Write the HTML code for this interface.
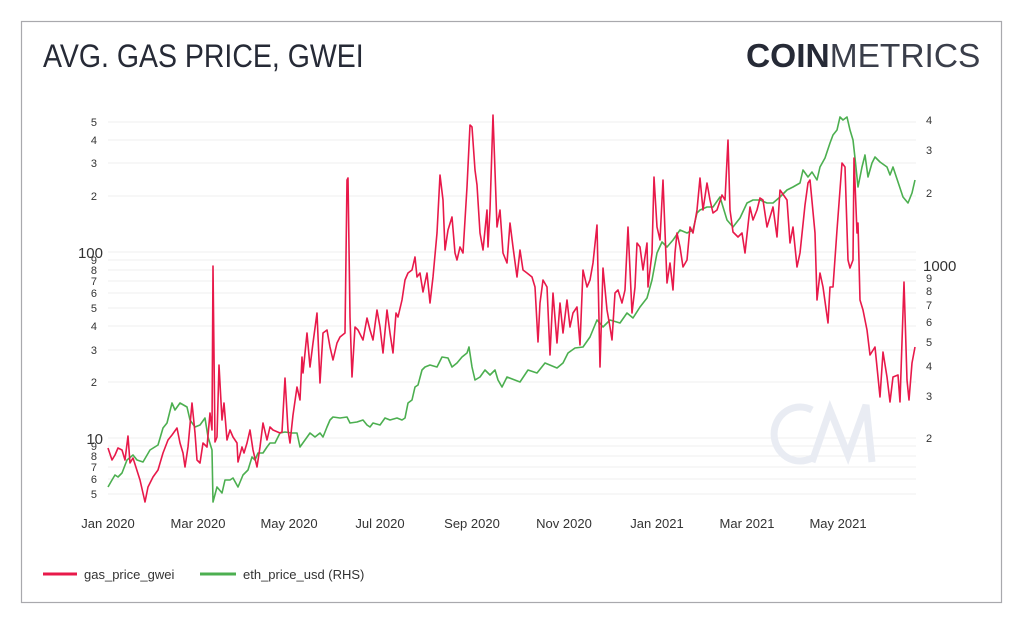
<!DOCTYPE html>
<html><head><meta charset="utf-8"><style>
html,body{margin:0;padding:0;background:#fff;}
body{width:1024px;height:625px;position:relative;overflow:hidden;font-family:"Liberation Sans",sans-serif;}
</style></head><body>
<svg width="1024" height="625" viewBox="0 0 1024 625" xmlns="http://www.w3.org/2000/svg" font-family="Liberation Sans, sans-serif">
<rect x="21.5" y="21.5" width="980" height="581" fill="#fff" stroke="#a9a9ad" stroke-width="1.2"/>
<text x="43" y="67" font-size="32" fill="#262a36" transform="translate(43 0) scale(0.89 1) translate(-43 0)">AVG. GAS PRICE, GWEI</text>
<text x="746" y="67" font-size="33" fill="#262a36" transform="translate(746 0) scale(1.015 1) translate(-746 0)"><tspan font-weight="bold">COIN</tspan><tspan font-weight="normal" fill="#3a3e4a">METRICS</tspan></text>
<g stroke="#efefef" stroke-width="1">
<line x1="108" x2="916" y1="122" y2="122"/><line x1="108" x2="916" y1="140" y2="140"/><line x1="108" x2="916" y1="163" y2="163"/><line x1="108" x2="916" y1="196" y2="196"/><line x1="108" x2="916" y1="252" y2="252"/><line x1="108" x2="916" y1="260" y2="260"/><line x1="108" x2="916" y1="270" y2="270"/><line x1="108" x2="916" y1="281" y2="281"/><line x1="108" x2="916" y1="293" y2="293"/><line x1="108" x2="916" y1="308" y2="308"/><line x1="108" x2="916" y1="326" y2="326"/><line x1="108" x2="916" y1="350" y2="350"/><line x1="108" x2="916" y1="382" y2="382"/><line x1="108" x2="916" y1="438" y2="438"/><line x1="108" x2="916" y1="446" y2="446"/><line x1="108" x2="916" y1="456" y2="456"/><line x1="108" x2="916" y1="467" y2="467"/><line x1="108" x2="916" y1="479" y2="479"/><line x1="108" x2="916" y1="494" y2="494"/>
</g>
<g fill="none" stroke="#e9ecf3" stroke-width="7">
<path d="M812 410 A26 27 0 1 0 812 458"/>
<polyline points="812,462 830,410 848,455 866,405 872,462"/>
</g>
<g font-size="11" fill="#333" text-anchor="end">
<text x="97" y="126">5</text><text x="97" y="144">4</text><text x="97" y="167">3</text><text x="97" y="200">2</text>
<text x="103" y="258" font-size="15">100</text>
<text x="97" y="264">9</text><text x="97" y="274">8</text><text x="97" y="285">7</text><text x="97" y="297">6</text><text x="97" y="312">5</text><text x="97" y="330">4</text><text x="97" y="354">3</text><text x="97" y="386">2</text>
<text x="103" y="444" font-size="15">10</text>
<text x="97" y="450">9</text><text x="97" y="460">8</text><text x="97" y="471">7</text><text x="97" y="483">6</text><text x="97" y="498">5</text>
</g>
<g font-size="11" fill="#333">
<text x="926" y="124">4</text><text x="926" y="154">3</text><text x="926" y="197">2</text>
<text x="923" y="271" font-size="15">1000</text>
<text x="926" y="282">9</text><text x="926" y="295">8</text><text x="926" y="309">7</text><text x="926" y="326">6</text><text x="926" y="346">5</text><text x="926" y="370">4</text><text x="926" y="400">3</text><text x="926" y="442">2</text>
</g>
<g font-size="13" fill="#333" text-anchor="middle">
<text x="108" y="528">Jan 2020</text><text x="198" y="528">Mar 2020</text><text x="289" y="528">May 2020</text><text x="380" y="528">Jul 2020</text><text x="472" y="528">Sep 2020</text><text x="564" y="528">Nov 2020</text><text x="657" y="528">Jan 2021</text><text x="747" y="528">Mar 2021</text><text x="838" y="528">May 2021</text>
</g>
<polyline fill="none" stroke="#4caf50" stroke-width="1.6" stroke-linejoin="round" points="108,487 112,480 115,475 118,477 122,473 127,460 133,455 137,460 143,462 150,450 158,445 163,428 167,423 172,403 175,410 180,403 187,407 190,420 195,427 200,425 205,418 208,437 212,450 213,502 217,487 222,493 225,480 230,480 233,478 238,487 243,475 248,470 252,457 255,460 258,453 263,453 267,447 270,443 275,443 280,433 285,432 292,433 297,433 300,447 305,440 310,433 315,437 320,433 323,437 327,427 330,420 333,417 340,418 347,417 350,423 357,422 363,420 367,425 370,427 373,423 380,425 385,418 390,420 397,418 402,420 405,418 408,403 412,400 415,387 418,385 422,370 425,367 430,365 437,367 442,357 448,358 452,367 457,363 462,357 467,353 469,347 472,367 475,380 480,377 485,370 490,375 495,370 498,380 502,387 507,377 520,382 528,370 537,373 545,363 557,368 563,363 568,353 575,348 583,347 590,337 597,320 603,327 610,320 620,323 627,313 633,318 640,307 647,298 652,280 657,253 662,242 667,247 673,240 680,230 687,233 693,230 697,213 700,210 707,207 713,207 720,197 727,220 733,227 740,218 747,203 753,200 760,200 767,203 773,203 780,197 787,190 793,187 800,183 803,170 808,177 812,172 817,180 820,167 825,158 830,143 833,135 837,130 840,117 843,120 847,117 850,130 853,140 855,158 858,187 862,167 865,155 868,177 872,163 875,157 880,162 887,167 890,175 893,167 898,182 903,197 908,203 912,193 915,180"/>
<polyline fill="none" stroke="#e8194a" stroke-width="1.6" stroke-linejoin="round" points="108,448 112,460 115,455 118,448 122,450 125,460 128,436 130,463 133,458 140,480 145,502 148,487 153,477 158,470 163,453 168,440 172,435 177,428 180,443 183,453 185,467 188,447 192,403 195,433 197,460 200,463 203,443 207,447 210,413 212,430 213,266 215,442 217,437 219,365 222,420 224,403 227,440 230,430 233,437 237,443 238,462 242,447 244,453 247,443 250,430 253,450 257,467 260,447 263,423 267,440 270,427 273,430 280,433 282,432 285,378 288,430 290,443 293,415 297,387 300,400 302,357 303,373 307,333 310,367 313,343 317,313 320,383 323,333 327,330 330,347 333,360 337,343 340,337 345,333 347,180 348,178 350,317 352,377 355,327 358,330 363,340 367,318 370,330 373,340 377,310 380,327 383,353 387,310 390,333 393,353 396,313 398,317 402,300 405,280 408,273 412,270 415,257 417,277 420,273 423,292 427,273 430,303 433,277 437,233 440,175 443,200 445,250 448,230 452,217 455,253 457,260 460,247 463,253 467,187 470,125 472,127 475,170 477,185 480,233 483,250 487,210 488,247 490,210 493,115 497,227 500,210 503,253 507,263 510,223 513,247 517,277 520,250 523,270 527,273 532,277 535,287 538,342 540,303 543,280 547,287 550,355 553,293 557,343 560,303 563,333 567,300 570,327 573,313 577,307 580,345 583,270 587,287 590,280 593,263 597,225 600,367 603,268 607,310 610,327 612,340 615,293 618,290 622,303 625,290 628,227 632,313 635,287 637,243 640,247 643,270 647,243 648,287 652,253 654,177 657,227 660,240 663,180 667,283 670,263 673,290 675,253 677,233 680,247 683,267 687,260 690,227 693,233 697,210 700,178 703,210 707,183 710,200 713,213 717,210 722,195 725,200 728,140 730,210 733,232 738,237 742,233 745,253 750,207 753,220 757,210 760,198 763,200 767,227 773,207 777,237 780,190 787,200 790,243 793,227 797,267 800,253 805,205 808,183 810,180 815,233 817,300 820,273 823,287 828,323 830,287 833,287 837,230 842,163 845,167 848,260 850,268 853,260 854,158 857,233 858,223 860,300 863,310 867,330 870,355 875,347 880,397 883,352 887,377 890,402 893,377 898,375 900,402 904,282 907,380 909,400 912,363 915,347"/>
<line x1="43" x2="77" y1="574" y2="574" stroke="#e8194a" stroke-width="3"/>
<text x="84" y="579" font-size="13" fill="#333">gas_price_gwei</text>
<line x1="200" x2="236" y1="574" y2="574" stroke="#4caf50" stroke-width="3"/>
<text x="243" y="579" font-size="13" fill="#333">eth_price_usd (RHS)</text>
</svg>
</body></html>
